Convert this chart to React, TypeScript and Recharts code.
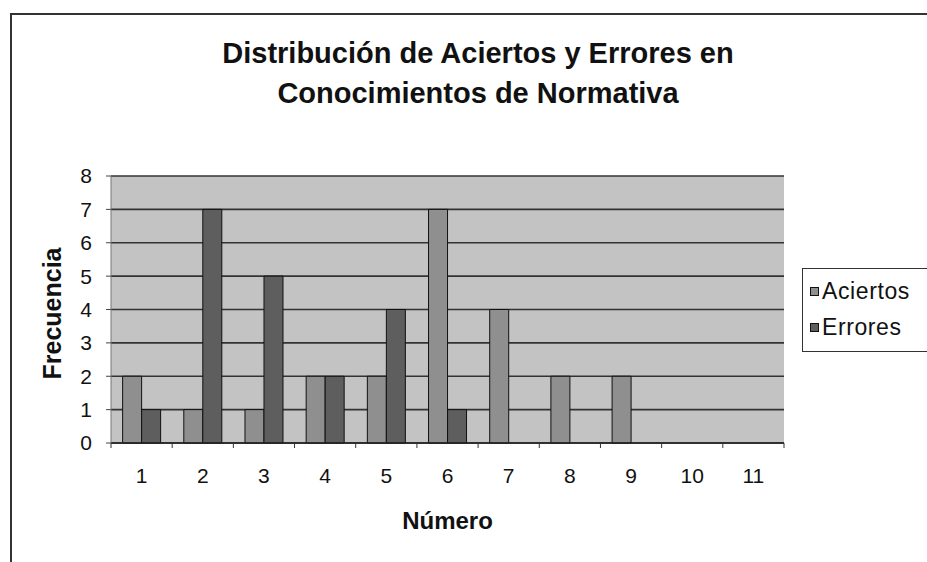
import { BarChart, Bar, XAxis, YAxis, CartesianGrid } from 'recharts';

const categories = ['1', '2', '3', '4', '5', '6', '7', '8', '9', '10', '11'];
const aciertos = [2, 1, 1, 2, 2, 7, 4, 2, 2, 0, 0];
const errores = [1, 7, 5, 2, 4, 1, 0, 0, 0, 0, 0];
const yTicks = [0, 1, 2, 3, 4, 5, 6, 7, 8];

const series = [
  { key: 'Aciertos', color: '#8f8f8f' },
  { key: 'Errores', color: '#5e5e5e' },
];

const data = categories.map((n, i) => ({
  n,
  Aciertos: aciertos[i],
  Errores: errores[i],
}));

const FONT = '"Liberation Sans", Arial, sans-serif';
const PLOT_LEFT = 111;
const PLOT_RIGHT = 784;
const PLOT_TOP = 176;
const W = 927;
const H = 562;
const BAND = (PLOT_RIGHT - PLOT_LEFT) / categories.length;

// Excel puts the tick marks between categories, not under them
const XTick = (props: any) => {
  const { x, y, payload, index } = props;
  const last = index === categories.length - 1;
  return (
    <g>
      <line x1={x - BAND / 2} x2={x - BAND / 2} y1={y} y2={y + 5} stroke="#333" />
      {last && <line x1={x + BAND / 2} x2={x + BAND / 2} y1={y} y2={y + 5} stroke="#333" />}
      <text x={x} y={y + 40} textAnchor="middle" fontSize={21} fill="#111" fontFamily={FONT}>
        {payload.value}
      </text>
    </g>
  );
};

const App = () => {
  return (
    <div
      style={{
        position: 'absolute',
        left: 0,
        top: 0,
        width: W,
        height: H,
        overflow: 'hidden',
        background: '#fff',
        fontFamily: FONT,
      }}
    >
      <div
        style={{
          position: 'absolute',
          left: 10,
          top: 13,
          width: W,
          height: H,
          borderLeft: '2px solid #333',
          borderTop: '2px solid #333',
        }}
      />
      <div
        style={{
          position: 'absolute',
          left: 0,
          top: 33,
          width: 956,
          textAlign: 'center',
          fontSize: 29,
          lineHeight: '40px',
          fontWeight: 'bold',
          color: '#111',
        }}
      >
        Distribución de Aciertos y Errores en
        <br />
        Conocimientos de Normativa
      </div>
      <div style={{ position: 'absolute', left: 0, top: 0 }}>
        <BarChart
          width={W}
          height={H}
          data={data}
          margin={{ top: PLOT_TOP, right: W - PLOT_RIGHT, left: 47, bottom: 29 }}
          barCategoryGap="19%"
          barGap={0}
        >
          <CartesianGrid
            vertical={false}
            fill="#c3c3c3"
            fillOpacity={1}
            stroke="#333"
            strokeWidth={1.6}
          />
          <XAxis
            dataKey="n"
            height={90}
            tickLine={false}
            tickSize={0}
            tickMargin={0}
            tick={<XTick />}
            axisLine={{ stroke: '#222', strokeWidth: 1.5 }}
            label={{
              value: 'Número',
              position: 'insideBottom',
              offset: 4,
              style: { fontSize: 24, fontWeight: 'bold', fill: '#111', fontFamily: FONT },
            }}
          />
          <YAxis
            width={PLOT_LEFT - 47}
            domain={[0, 8]}
            ticks={yTicks}
            interval={0}
            tickSize={5}
            tickMargin={14}
            tick={{ fontSize: 21, fill: '#111', fontFamily: FONT }}
            tickLine={{ stroke: '#444' }}
            axisLine={{ stroke: '#777' }}
            label={{
              value: 'Frecuencia',
              angle: -90,
              position: 'insideLeft',
              offset: 5,
              dy: 4,
              style: { textAnchor: 'middle', fontSize: 25, fontWeight: 'bold', fill: '#111', fontFamily: FONT },
            }}
          />
          <YAxis
            yAxisId="right"
            orientation="right"
            width={0}
            tick={false}
            tickLine={false}
            axisLine={{ stroke: '#888' }}
          />
          {series.map((s) => (
            <Bar
              key={s.key}
              dataKey={s.key}
              fill={s.color}
              stroke="#111"
              strokeWidth={1}
              isAnimationActive={false}
            />
          ))}
        </BarChart>
      </div>
      <div
        style={{
          position: 'absolute',
          left: 802,
          top: 268,
          width: 160,
          height: 78,
          paddingTop: 4,
          borderLeft: '1.5px solid #333',
          borderTop: '1.5px solid #333',
          borderBottom: '1.5px solid #333',
          background: '#fff',
        }}
      >
        {series.map((s) => (
          <div
            key={s.key}
            style={{ height: 36, display: 'flex', alignItems: 'center', fontSize: 23, letterSpacing: 0.6, color: '#111' }}
          >
            <span
              style={{
                display: 'inline-block',
                width: 7,
                height: 7,
                marginLeft: 7,
                marginRight: 3,
                background: s.color,
                border: '1px solid #111',
              }}
            />
            {s.key}
          </div>
        ))}
      </div>
    </div>
  );
};

export default App;
